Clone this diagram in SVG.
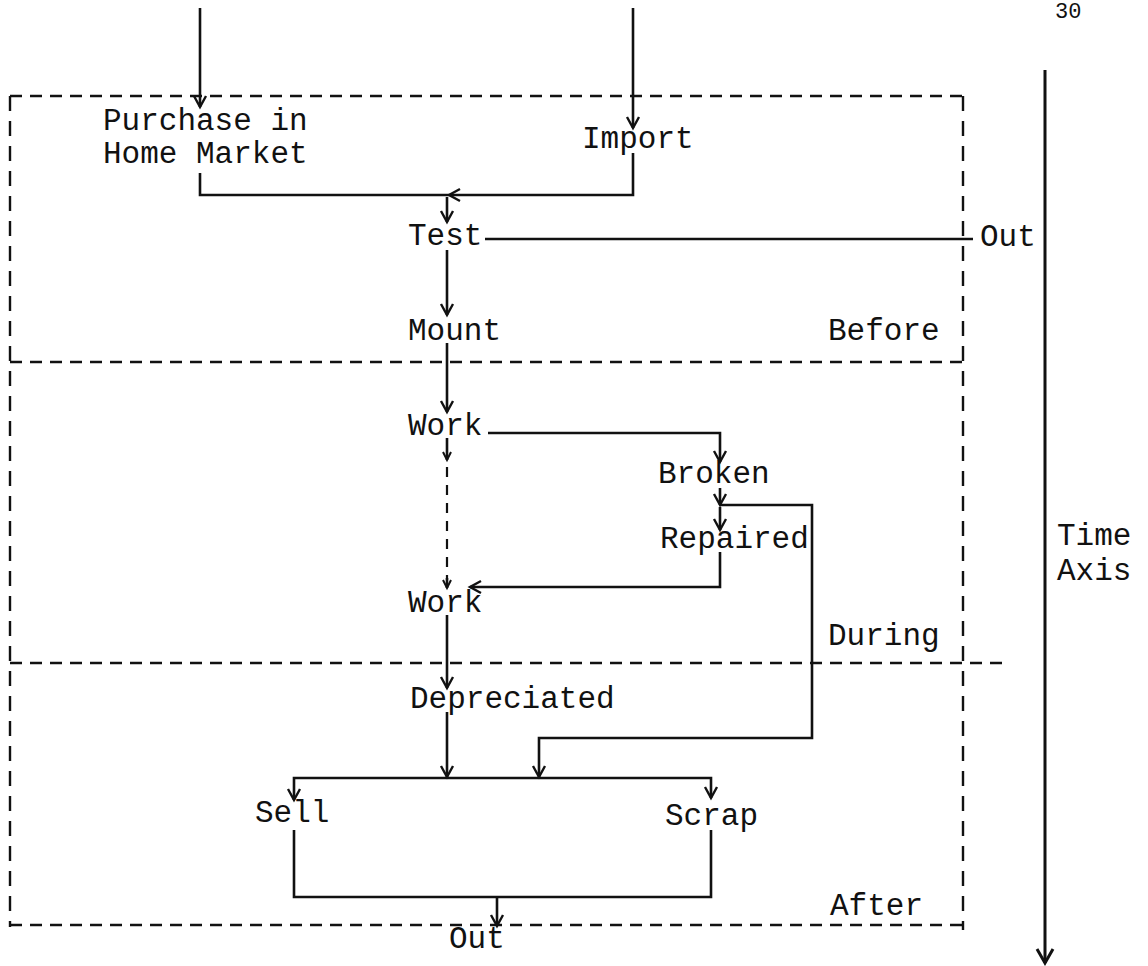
<svg xmlns="http://www.w3.org/2000/svg" width="1148" height="966" viewBox="0 0 1148 966">
<style>
  text { font-family: "Liberation Mono", "DejaVu Sans Mono", monospace; font-size: 31px; fill: #111; }
  .small { font-size: 22px; }
  .conn { fill: none; stroke: #111; stroke-width: 2.6; }
  .dot { fill: none; stroke: #111; stroke-width: 2.2; stroke-dasharray: 10 8; }
  .bound { fill: none; stroke: #111; stroke-width: 2.4; stroke-dasharray: 12 8; }
  .boundv { fill: none; stroke: #111; stroke-width: 2.4; stroke-dasharray: 15 10; }
  .axis { fill: none; stroke: #111; stroke-width: 3; }
</style>
<defs>
  <marker id="arr" markerUnits="userSpaceOnUse" viewBox="-12 -8 14 16" markerWidth="14" markerHeight="16" refX="0" refY="0" orient="auto" overflow="visible">
    <path d="M-11,-6 L0,0 L-11,6" fill="none" stroke="#111" stroke-width="2.4"/>
  </marker>
  <marker id="arrs" markerUnits="userSpaceOnUse" viewBox="-10 -6 12 12" markerWidth="12" markerHeight="12" refX="0" refY="0" orient="auto" overflow="visible">
    <path d="M-8,-4 L0,0 L-8,4" fill="none" stroke="#111" stroke-width="2"/>
  </marker>
  <marker id="arrb" markerUnits="userSpaceOnUse" viewBox="-16 -10 18 20" markerWidth="18" markerHeight="20" refX="0" refY="0" orient="auto" overflow="visible">
    <path d="M-14,-8 L0,0 L-14,8" fill="none" stroke="#111" stroke-width="3"/>
  </marker>
</defs>
<rect width="1148" height="966" fill="#ffffff"/>

<g id="boundaries">
  <path class="bound" d="M10,96 H963"/>
  <path class="boundv" d="M10,96 V927"/>
  <path class="boundv" d="M963,96 V930"/>
  <path class="bound" d="M10,362 H963"/>
  <path class="bound" d="M10,663 H1002"/>
  <path class="bound" d="M10,925 H963"/>
</g>

<g id="time-axis">
  <path class="axis" d="M1045,70 V963" marker-end="url(#arrb)"/>
  <text x="1057" y="545">Time</text>
  <text x="1057" y="580">Axis</text>
</g>

<g id="connectors">
  <path class="conn" d="M200,8 V107" marker-end="url(#arr)"/>
  <path class="conn" d="M633,8 V128" marker-end="url(#arr)"/>
  <path class="conn" d="M200,173 V195 H449"/>
  <path class="conn" d="M633,153 V195 H449" marker-end="url(#arr)"/>
  <path class="conn" d="M447,197 V222" marker-end="url(#arr)"/>
  <path class="conn" d="M485,239 H973"/>
  <path class="conn" d="M447,250 V315" marker-end="url(#arr)"/>
  <path class="conn" d="M447,343 V412" marker-end="url(#arr)"/>
  <path class="conn" d="M488,433 H720 V462" marker-end="url(#arr)"/>
  <path class="conn" d="M720,488 V505" marker-end="url(#arr)"/>
  <path class="conn" d="M720,507 V530" marker-end="url(#arr)"/>
  <path class="conn" d="M720,505 H812 V738 H539 V777" marker-end="url(#arr)"/>
  <path class="conn" d="M720,552 V587 H470" marker-end="url(#arr)"/>
  <path class="conn" d="M447,438 V460" marker-end="url(#arrs)"/>
  <path class="dot" d="M447,467 V580"/>
  <path class="conn" d="M447,578 V588" marker-end="url(#arrs)"/>
  <path class="conn" d="M447,615 V688" marker-end="url(#arr)"/>
  <path class="conn" d="M447,712 V777" marker-end="url(#arr)"/>
  <path class="conn" d="M447,778 H294 V800" marker-end="url(#arr)"/>
  <path class="conn" d="M447,778 H711 V798" marker-end="url(#arr)"/>
  <path class="conn" d="M294,830 V897 H711 V830"/>
  <path class="conn" d="M497,897 V926" marker-end="url(#arr)"/>
</g>

<g id="page-number"><text class="small" x="1055" y="18">30</text></g>
<g id="node-purchase"><text x="103" y="130">Purchase in</text><text x="103" y="163">Home Market</text></g>
<g id="node-import"><text x="582" y="148">Import</text></g>
<g id="node-test"><text x="408" y="245">Test</text></g>
<g id="node-out-top"><text x="980" y="246">Out</text></g>
<g id="node-mount"><text x="408" y="340">Mount</text></g>
<g id="label-before"><text x="828" y="340">Before</text></g>
<g id="node-work1"><text x="408" y="435">Work</text></g>
<g id="node-broken"><text x="658" y="483">Broken</text></g>
<g id="node-repaired"><text x="660" y="548">Repaired</text></g>
<g id="node-work2"><text x="408" y="612">Work</text></g>
<g id="label-during"><text x="828" y="645">During</text></g>
<g id="node-depreciated"><text x="410" y="708">Depreciated</text></g>
<g id="node-sell"><text x="255" y="822">Sell</text></g>
<g id="node-scrap"><text x="665" y="825">Scrap</text></g>
<g id="label-after"><text x="830" y="915">After</text></g>
<g id="node-out-bottom"><text x="449" y="948">Out</text></g>
</svg>
